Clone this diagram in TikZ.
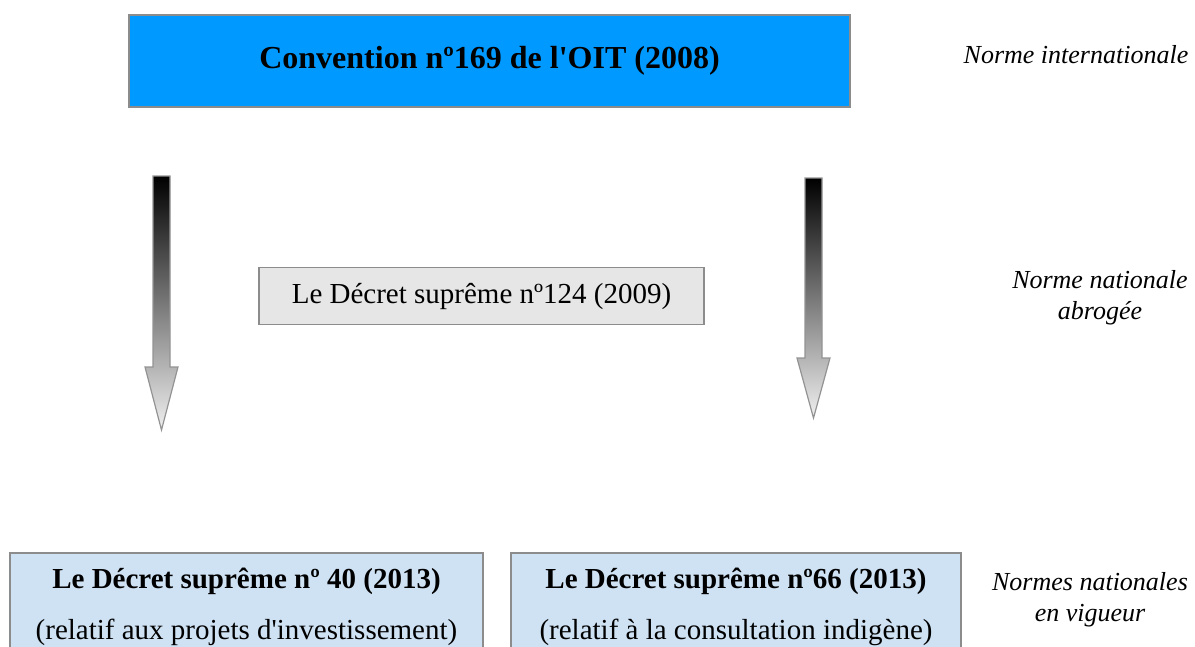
\documentclass[tikz,border=0pt]{standalone}
\usepackage{fontspec}
\setmainfont{Liberation Serif}
\usetikzlibrary{positioning}
\tikzstyle{norm_box}=[rectangle,
        draw=gray!90,
        line width=1.2pt,
        inner sep=0pt,
        align=center, ]
\tikzstyle{side_label}=[align=center,
        font=\fontsize{26}{31}\selectfont\itshape, ]
\definecolor{IntlBlue}{HTML}{0099FF}
\definecolor{RepealGray}{HTML}{E6E6E6}
\definecolor{ForceBlue}{HTML}{CFE2F3}

\begin{document}
\begin{tikzpicture}[x=1pt, y=-1pt]
    \useasboundingbox (0,0) rectangle (1195,646);
    \clip (0,0) rectangle (1195,646);

    \node at (489.5, 61) (conv) [norm_box, fill=IntlBlue, minimum width=721, minimum height=92,
        font=\fontsize{32}{36}\selectfont\bfseries] {Convention n\textordmasculine169 de l\textquotesingle OIT (2008)};
    \node at (481.5, 296) (dec124) [norm_box, fill=RepealGray, minimum width=445, minimum height=57,
        font=\fontsize{29}{34}\selectfont] {Le D\'ecret supr\^eme n\textordmasculine124 (2009)};

    \node at (246.5, 607) (dec40) [norm_box, fill=ForceBlue, minimum width=473, minimum height=108,
        font=\fontsize{29}{51}\selectfont] {\textbf{Le D\'ecret supr\^eme n\textordmasculine\ 40 (2013)}\\(relatif aux projets d\textquotesingle investissement)};
    \node at (736, 607) (dec66) [norm_box, fill=ForceBlue, minimum width=450, minimum height=108,
        font=\fontsize{29}{51}\selectfont] {\textbf{Le D\'ecret supr\^eme n\textordmasculine66 (2013)}\\(relatif \`a la consultation indig\`ene)};

    \node at (1076, 55) (intl) [side_label] {Norme internationale};
    \node at (1100, 297.5) (repealed) [side_label] {Norme nationale\\abrog\'ee};
    \node at (1090, 600) (inforce) [side_label] {Normes nationales\\en vigueur};

    % shaded arrows: centre x / top y / head start y / tip y
    \foreach \ax/\at/\ah/\ab in {161.5/176/367/430, 813.5/178/358/418} {
        \shadedraw[top color=black, bottom color=gray!12, draw=gray!85, line width=1.2pt, line join=miter]
            (\ax-8.5, \at) -- (\ax+8.5, \at) -- (\ax+8.5, \ah) -- (\ax+16.5, \ah)
            -- (\ax, \ab) -- (\ax-16.5, \ah) -- (\ax-8.5, \ah) -- cycle;
    }

\end{tikzpicture}
\end{document}
